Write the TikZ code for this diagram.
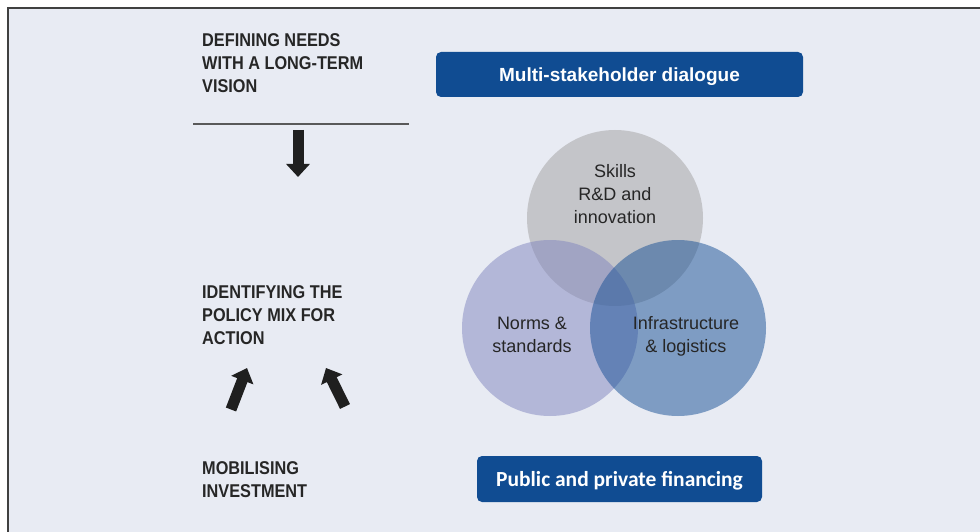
\documentclass[tikz,border=0pt]{standalone}
\usepackage{fontspec}
\setmainfont{Liberation Sans}
\newfontfamily\headfont{Liberation Sans}[FakeStretch=0.88]
\newfontfamily\pillfont{Carlito}
\usepackage{xcolor}
\usepackage{tikz}
\usetikzlibrary{positioning, arrows.meta}
\definecolor{panelbg}{RGB}{232,235,243}
\definecolor{oecdblue}{RGB}{16,76,146}
\definecolor{skillgray}{RGB}{162,161,161}
\definecolor{normlav}{RGB}{128,133,191}
\definecolor{infrablue}{RGB}{22,79,149}
\definecolor{captext}{RGB}{38,38,38}
\tikzstyle{heading} = [anchor=base west, inner sep=0, align=left, text=captext,
    font=\headfont\bfseries\fontsize{18.5}{23}\selectfont]
\tikzstyle{pillbox} = [fill=oecdblue, rounded corners=5pt, text=white, inner sep=0, text depth=0pt]
\tikzstyle{venn} = [circle, minimum size=176pt, inner sep=0, fill opacity=0.5]
\tikzstyle{venntext} = [align=center, anchor=base, inner sep=0, text=captext,
    font=\fontsize{18}{23}\selectfont]
\tikzstyle{blockarrow} = [line width=11pt, draw=black!88, -{Triangle[length=13pt,width=23pt]}]

\begin{document}
\begin{tikzpicture}[x=1pt, y=-1pt]
                      \useasboundingbox (0,0) rectangle (980,532);
                      % Panel
                      \fill [panelbg] (8,8) rectangle (980,532);
                      \draw [line width=2.5pt, black!75] (8,532) -- (8,8) -- (980,8);

                      % Nodes (placed at the baseline of their last line)
                      \node [heading] (needs) at (202,93) {DEFINING NEEDS\\WITH A LONG-TERM\\VISION};
                      \node [heading] (policy) at (202,344) {IDENTIFYING THE\\POLICY MIX FOR\\ACTION};
                      \node [heading] (invest) at (202,497) {MOBILISING\\INVESTMENT};

                      \node [pillbox, minimum width=367pt, minimum height=45pt,
                             font=\bfseries\fontsize{19}{23}\selectfont] (dialogue) at (619.5,74.5) {Multi-stakeholder dialogue};
                      \node [pillbox, minimum width=285pt, minimum height=46pt,
                             font=\pillfont\bfseries\fontsize{21.5}{24}\selectfont] (financing) at (619.5,479) {Public and private financing};

                      % Venn circles
                      \node [venn, fill=skillgray] (skills) at (615,218) {};
                      \node [venn, fill=normlav] (norms) at (550,328) {};
                      \node [venn, fill=infrablue] (infra) at (678,328) {};
                      \node [venntext] (skillstext) at (615,223) {Skills\\R\&D and\\innovation};
                      \node [venntext] (normstext) at (532,352) {Norms \&\\standards};
                      \node [venntext] (infratext) at (686,352) {Infrastructure\\\& logistics};

                      % Connections
                      \draw [line width=1.2pt, black!65] (193,124) -- (409,124);
                      \coordinate (downtop) at (298,130);
                      \coordinate (downtip) at (298,177);
                      \coordinate (lefttail) at (231,409.5);
                      \coordinate (lefttip) at (247,368);
                      \coordinate (righttail) at (345,406.5);
                      \coordinate (righttip) at (326,368);
                      \draw [blockarrow] (downtop) -- (downtip);
                      \draw [blockarrow] (lefttail) -- (lefttip);
                      \draw [blockarrow] (righttail) -- (righttip);

                  \end{tikzpicture}
\end{document}
